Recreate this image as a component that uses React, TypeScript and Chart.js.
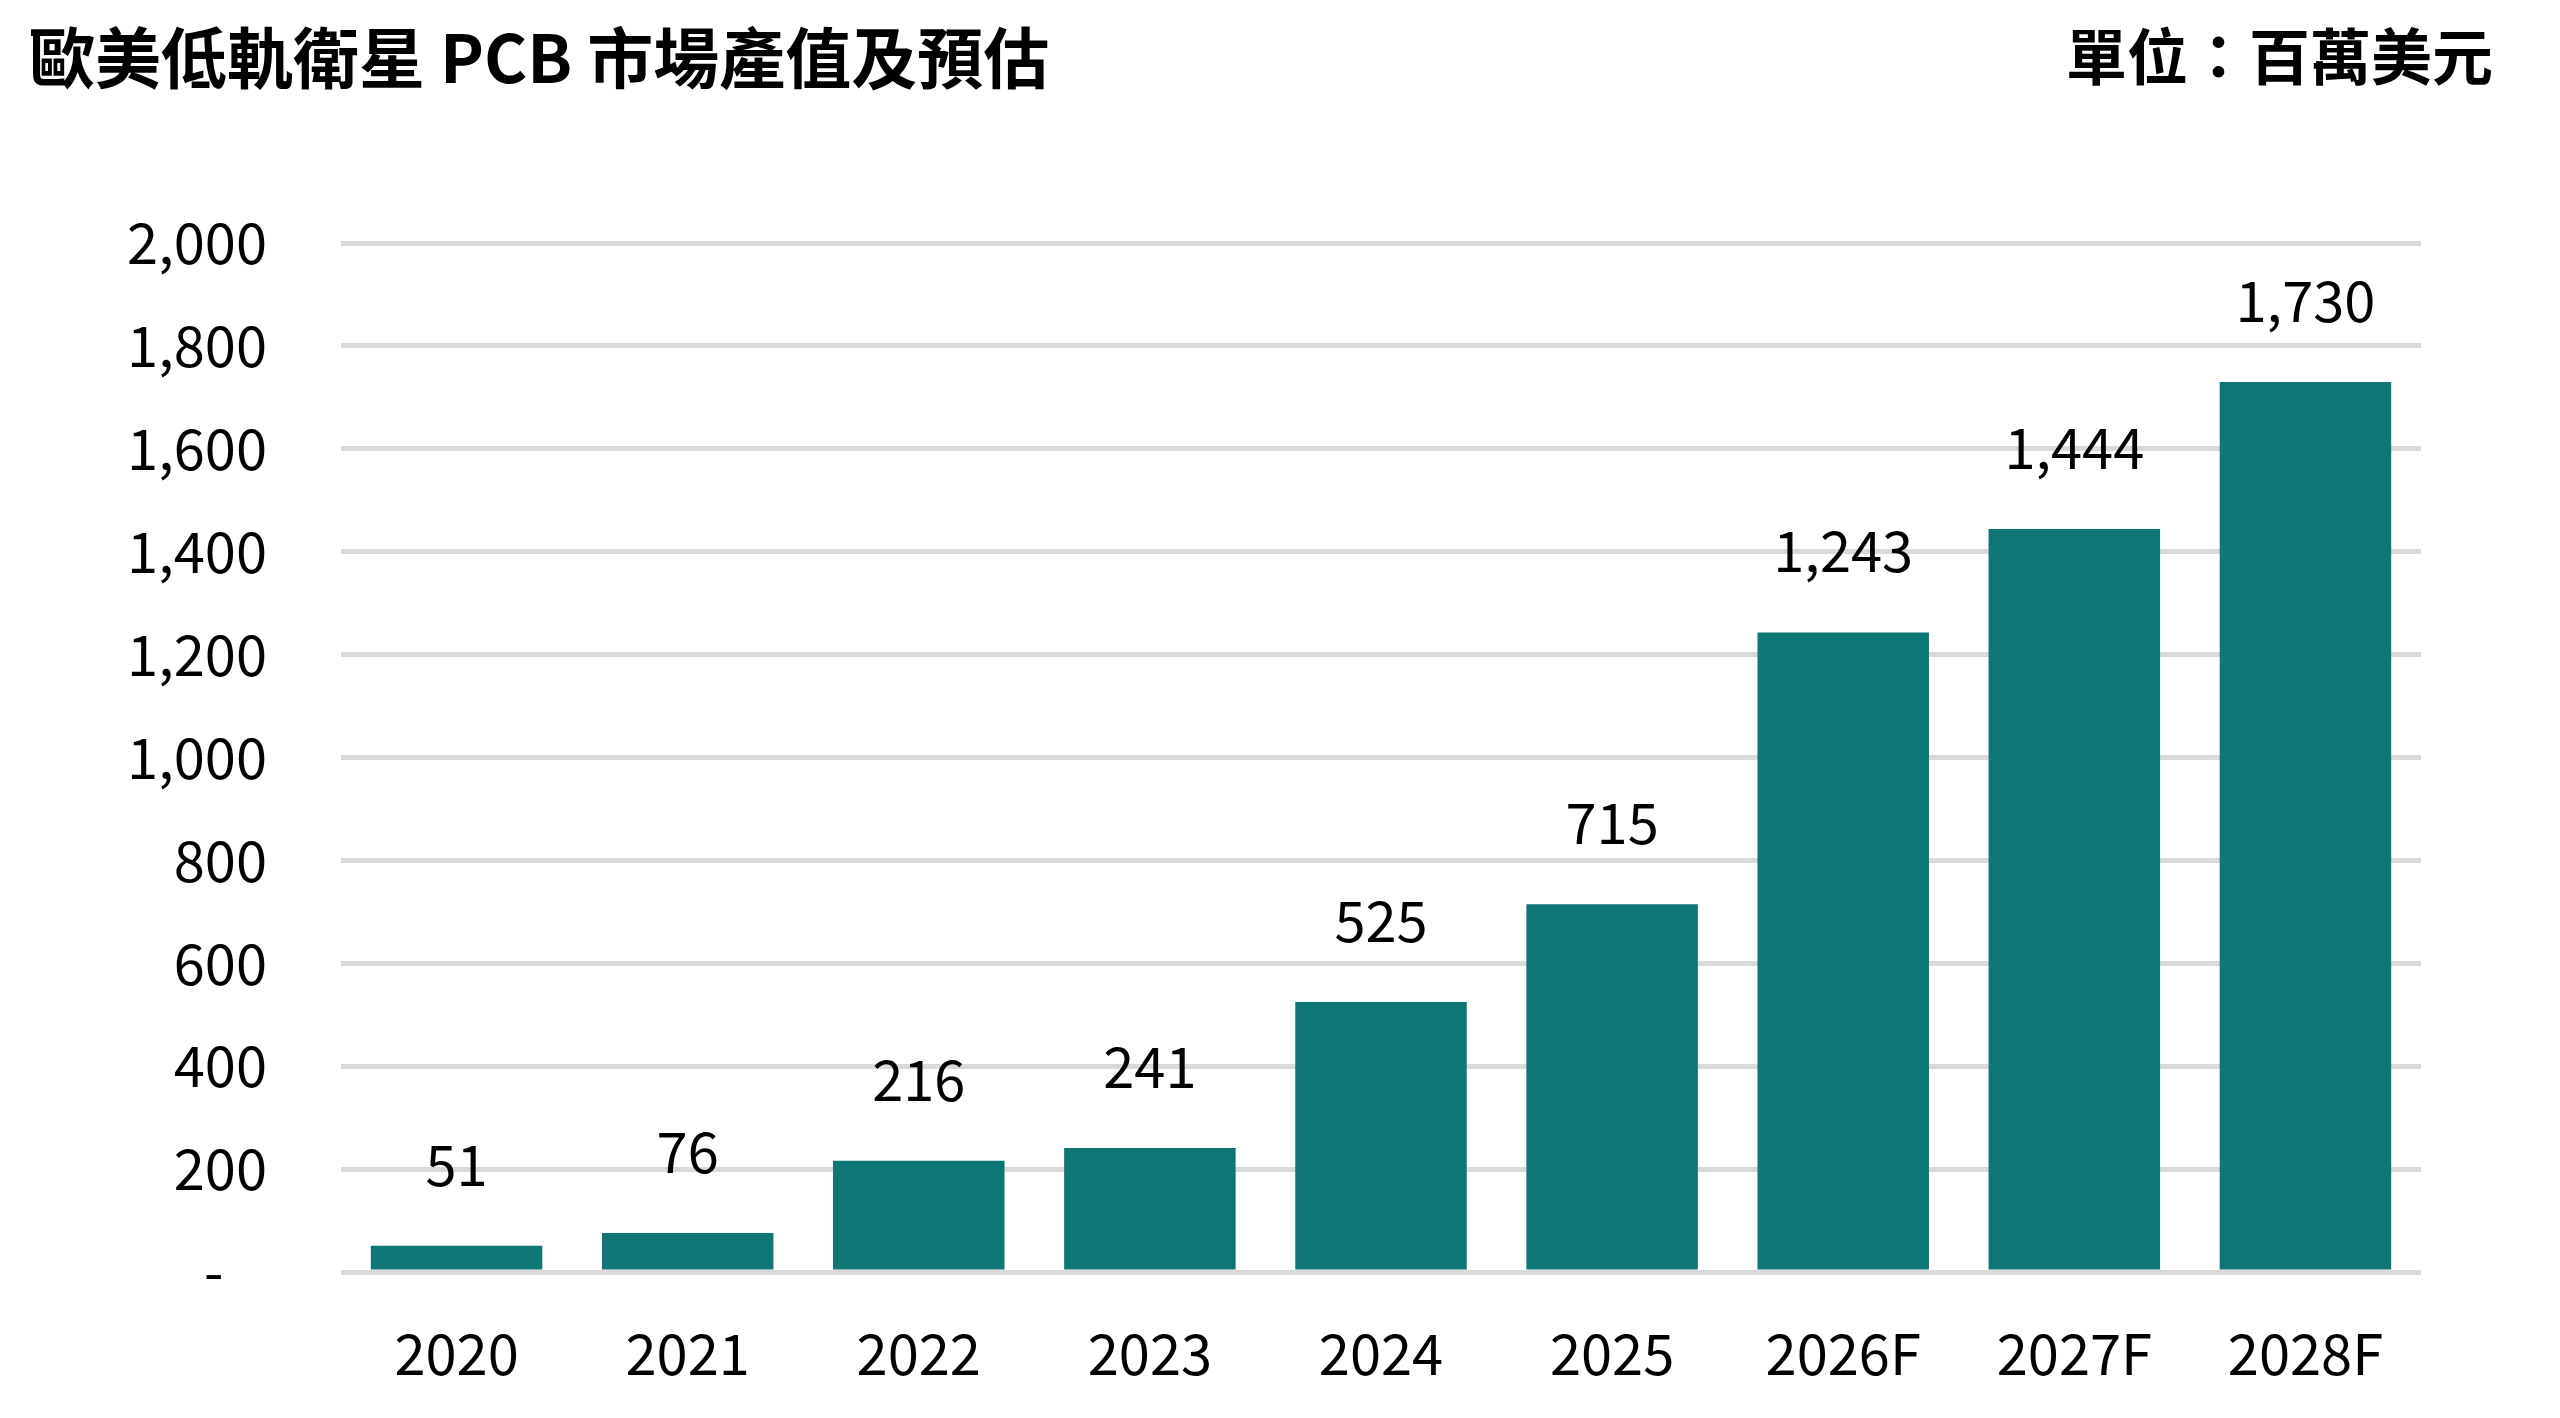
import React, { useEffect, useRef } from 'react';
import { Chart, registerables } from 'chart.js';

Chart.register(...registerables);

const years = ['2020', '2021', '2022', '2023', '2024', '2025', '2026F', '2027F', '2028F'];
const values = [51, 76, 216, 241, 525, 715, 1243, 1444, 1730];
const titleText = '歐美低軌衛星 PCB 市場產值及預估';
const unitText = '單位：百萬美元';

const FONT = "'Noto Sans CJK TC', 'Noto Sans', sans-serif";
const BAR_COLOR = '#0E7674';
const GRID_COLOR = '#D9D9D9';

const W = 2560;
const H = 1418;

const App: React.FC = () => {
  const canvasRef = useRef<HTMLCanvasElement>(null);
  const chartRef = useRef<Chart | null>(null);

  useEffect(() => {
    document.body.style.margin = '0';
    if (!canvasRef.current) return;
    const ctx = canvasRef.current.getContext('2d');
    if (!ctx) return;

    // title, unit and value labels drawn straight on the canvas
    const textPlugin = {
      id: 'textPlugin',
      afterDatasetsDraw(chart: any) {
        const c = chart.ctx;
        c.save();
        c.fillStyle = '#000';
        c.textBaseline = 'middle';
        c.font = `bold 66px ${FONT}`;
        c.textAlign = 'left';
        c.fillText(titleText, 29, 58);
        c.font = `bold 61px ${FONT}`;
        c.textAlign = 'right';
        c.fillText(unitText, 2493, 57);

        c.font = `56px ${FONT}`;
        c.textAlign = 'center';
        c.textBaseline = 'alphabetic';
        const meta = chart.getDatasetMeta(0);
        meta.data.forEach((bar: any, i: number) => {
          c.fillText(values[i].toLocaleString('en-US'), bar.x, bar.y - 60);
        });
        c.restore();
      },
    };

    chartRef.current = new Chart(ctx, {
      type: 'bar',
      data: {
        labels: years,
        datasets: [
          {
            data: values,
            backgroundColor: BAR_COLOR,
            borderWidth: 0,
            barPercentage: 0.742,
            categoryPercentage: 1,
          },
        ],
      },
      options: {
        responsive: false,
        animation: false,
        devicePixelRatio: 1,
        layout: { padding: { top: 243, right: W - 2421, left: 0, bottom: 0 } },
        plugins: {
          legend: { display: false },
          tooltip: { enabled: false },
          title: { display: false },
        },
        scales: {
          x: {
            grid: { display: false },
            border: { display: false },
            ticks: {
              color: '#000',
              font: { family: FONT, size: 56 },
              padding: 40,
              maxRotation: 0,
            },
            afterFit(scale: any) {
              scale.height = H - 1272;
            },
          },
          y: {
            min: 0,
            max: 2000,
            border: { display: false },
            grid: { color: GRID_COLOR, lineWidth: 5, drawTicks: false },
            ticks: {
              stepSize: 200,
              color: '#000',
              font: { family: FONT, size: 56 },
              padding: 74,
              callback: (v: any) => (Number(v) === 0 ? '- \u2007' : Number(v).toLocaleString('en-US')),
            },
            afterFit(scale: any) {
              scale.width = 341;
            },
          },
        },
      },
      plugins: [textPlugin],
    });

    return () => {
      if (chartRef.current) {
        chartRef.current.destroy();
        chartRef.current = null;
      }
    };
  }, []);

  return (
    <div style={{ position: 'absolute', left: 0, top: 0, width: W, height: H, background: '#fff' }}>
      <canvas ref={canvasRef} width={W} height={H} />
    </div>
  );
};

export default App;
